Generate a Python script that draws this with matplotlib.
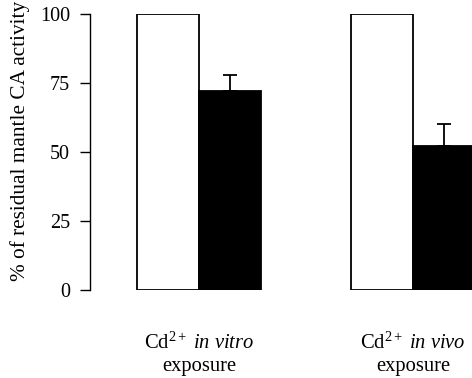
import matplotlib.pyplot as plt
import numpy as np

plt.rcParams['font.family'] = ['Liberation Serif', 'DejaVu Serif']
plt.rcParams['mathtext.fontset'] = 'custom'
plt.rcParams['mathtext.rm'] = 'Liberation Serif'
plt.rcParams['mathtext.it'] = 'Liberation Serif:italic'

# data
groups = [r'Cd$^{2+}$ $\it{in\ vitro}$', r'Cd$^{2+}$ $\it{in\ vivo}$']
control = [100, 100]
treated = [72, 52]
treated_err = [6, 8]
yticks = [0, 25, 50, 75, 100]

fig = plt.figure(figsize=(4.72, 3.78), dpi=100)
ax = fig.add_axes([90/472, 88/378, 1 - 90/472, 276/378])

x = np.arange(len(groups))
w = 0.29
ax.bar(x - w/2, control, w, color='white', edgecolor='black', linewidth=1.3)
ax.bar(x + w/2, treated, w, color='black', edgecolor='black', linewidth=1.3)
ax.errorbar(x + w/2, treated, yerr=[np.zeros(len(treated)), treated_err],
            fmt='none', ecolor='black', elinewidth=1.3, capsize=5, capthick=1.3)

ax.set_xlim(-0.509, 1.276)
ax.set_ylim(0, 100)
ax.set_yticks(yticks)
ax.tick_params(axis='y', length=7.5, width=1, pad=7, labelsize=14.5)
ax.set_xticks([])
for s in ['top', 'right', 'bottom']:
    ax.spines[s].set_visible(False)
ax.spines['left'].set_linewidth(1)

for xi, g in zip(x, groups):
    ax.text(xi, -0.192, g, transform=ax.get_xaxis_transform(),
            ha='center', va='center', fontsize=14.8)
    ax.text(xi, -0.277, 'exposure', transform=ax.get_xaxis_transform(),
            ha='center', va='center', fontsize=14.8)

fig.text(20.5/472, 1 - 141/378, '% of residual mantle CA activity', rotation=90,
         ha='center', va='center', fontsize=15.3)

fig.savefig('out.png', dpi=100)
